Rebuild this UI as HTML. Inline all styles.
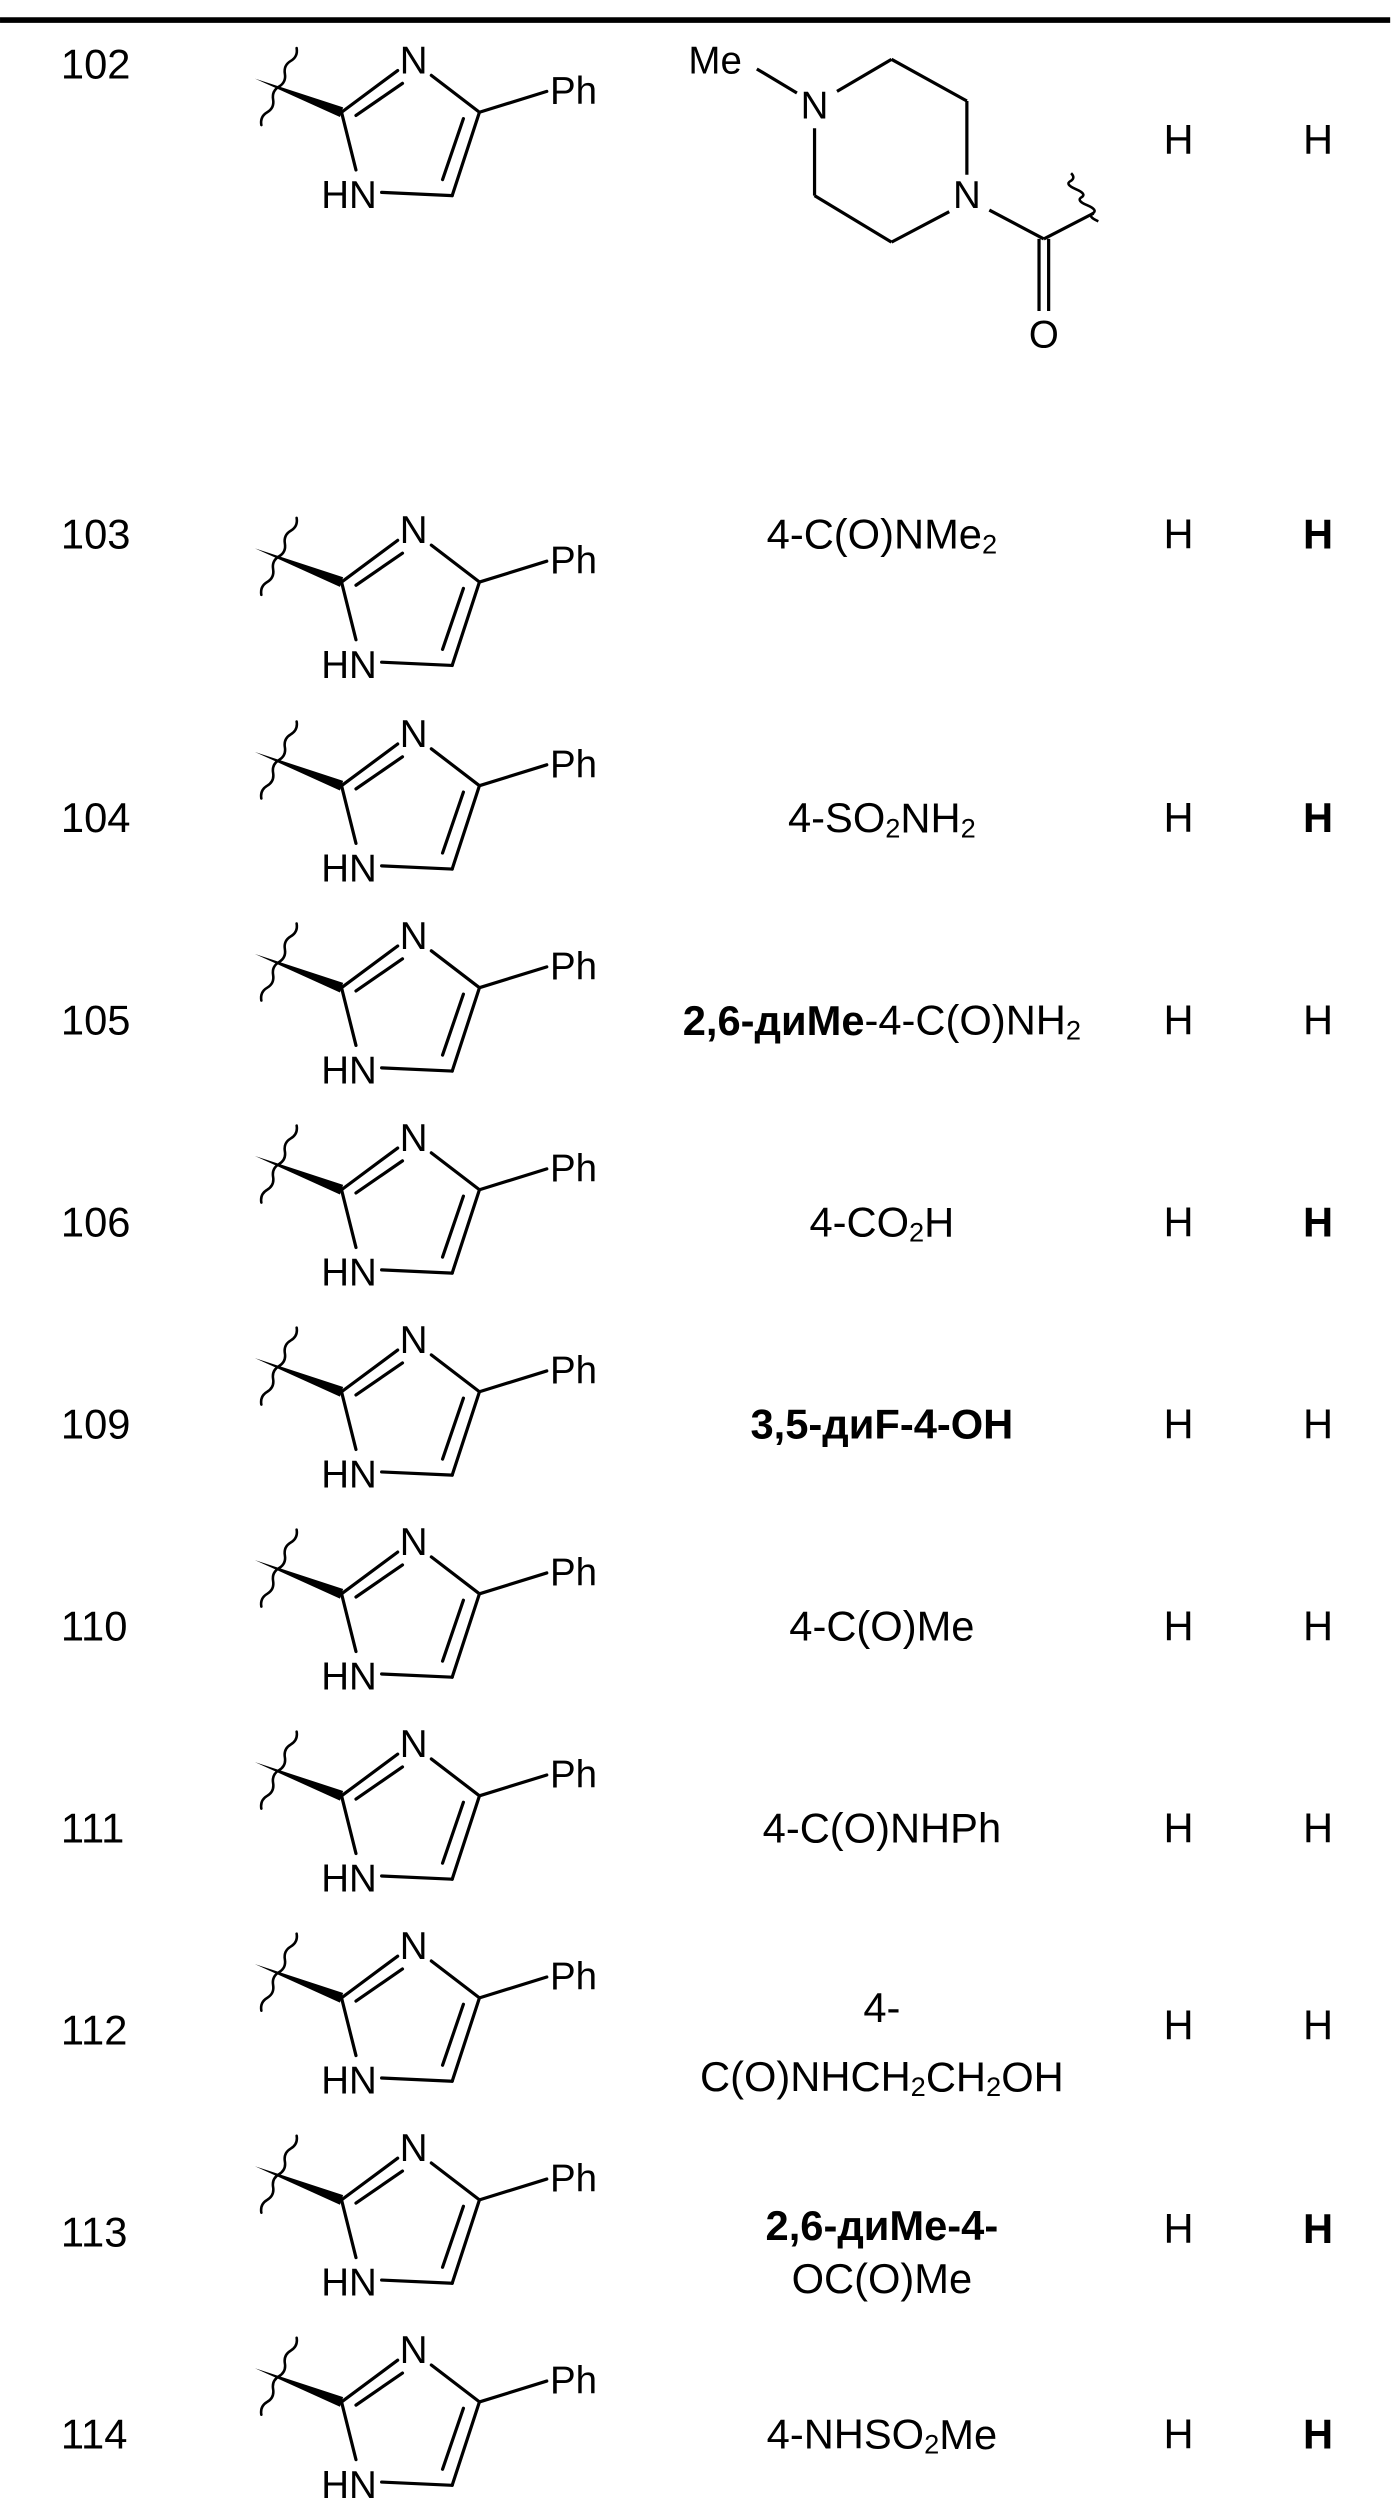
<!DOCTYPE html>
<html><head><meta charset="utf-8"><style>
html,body{margin:0;padding:0;background:#fff;}
svg{display:block;}
text{font-family:"Liberation Sans",Arial,sans-serif;fill:#000;}
</style></head><body>
<svg width="1395" height="2518" viewBox="0 0 870 1570.4" xmlns="http://www.w3.org/2000/svg">
<defs>
<g id="ring" stroke="#000" stroke-width="2" fill="none" stroke-linecap="round">
<polygon points="-54,-21 1,-3 -1,3" fill="#000" stroke="none"/>
<path d="M-28,-40 q0.9,5.3 -3.67,8 t-3.67,8 t-3.67,8 t-3.67,8 t-3.67,8 t-3.67,8" stroke-width="1.6"/>
<line x1="0" y1="0" x2="35" y2="-26"/>
<line x1="9" y1="2" x2="38" y2="-18"/>
<line x1="56" y1="-23" x2="86" y2="0"/>
<line x1="86" y1="0" x2="128" y2="-13"/>
<line x1="86" y1="0" x2="69" y2="52"/>
<line x1="76" y1="4" x2="63" y2="42"/>
<line x1="69" y1="52" x2="25" y2="50"/>
<line x1="0" y1="0" x2="9" y2="36"/>
</g>
</defs>
<line x1="0" y1="12.5" x2="867" y2="12.5" stroke="#000" stroke-width="3.5"/>

<g font-size="26" dominant-baseline="central">
<!-- 102 -->
<text x="38" y="40">102</text>
<use href="#ring" x="213" y="70"/>
<text x="258" y="38" font-size="24" text-anchor="middle">N</text>
<text x="343" y="57" font-size="24">Ph</text>
<text x="235" y="122" font-size="24" text-anchor="end">HN</text>
<g stroke="#000" stroke-width="2" fill="none">
<line x1="472" y1="43" x2="497" y2="58"/>
<line x1="522" y1="57" x2="556" y2="37"/>
<line x1="556" y1="37" x2="603" y2="63"/>
<line x1="603" y1="63" x2="603" y2="109"/>
<line x1="592" y1="132" x2="556" y2="151"/>
<line x1="556" y1="151" x2="508" y2="122"/>
<line x1="508" y1="122" x2="508" y2="80"/>
<line x1="617" y1="131" x2="651" y2="149"/>
<line x1="651" y1="149" x2="682" y2="133"/>
<line x1="648" y1="149" x2="648" y2="194"/>
<line x1="654" y1="149" x2="654" y2="194"/>
<path d="M668,108 q3,3 -0.5,5 t3.5,5 t3.5,5 t3.5,5 t3.5,5 t3.5,5" stroke-width="1.6"/>
</g>
<text x="446" y="38" font-size="24" text-anchor="middle">Me</text>
<text x="508" y="66" font-size="24" text-anchor="middle">N</text>
<text x="603" y="122" font-size="24" text-anchor="middle">N</text>
<text x="651" y="209" font-size="24" text-anchor="middle">O</text>
<text x="735" y="87" text-anchor="middle">H</text>
<text x="822" y="87" text-anchor="middle">H</text>

<!-- 103 -->
<text x="38" y="333">103</text>
<use href="#ring" x="213" y="363"/>
<text x="258" y="331" font-size="24" text-anchor="middle">N</text>
<text x="343" y="350" font-size="24">Ph</text>
<text x="235" y="415" font-size="24" text-anchor="end">HN</text>
<text x="550" y="333" text-anchor="middle">4-C(O)NMe<tspan font-size="17" dy="6">2</tspan></text>
<text x="735" y="333" text-anchor="middle">H</text>
<text x="822" y="333" text-anchor="middle" font-weight="bold">H</text>

<!-- 104 -->
<text x="38" y="510">104</text>
<use href="#ring" x="213" y="490"/>
<text x="258" y="458" font-size="24" text-anchor="middle">N</text>
<text x="343" y="477" font-size="24">Ph</text>
<text x="235" y="542" font-size="24" text-anchor="end">HN</text>
<text x="550" y="510" text-anchor="middle">4-SO<tspan font-size="17" dy="6">2</tspan><tspan dy="-6">NH</tspan><tspan font-size="17" dy="6">2</tspan></text>
<text x="735" y="510" text-anchor="middle">H</text>
<text x="822" y="510" text-anchor="middle" font-weight="bold">H</text>

<!-- 105 -->
<text x="38" y="636">105</text>
<use href="#ring" x="213" y="616"/>
<text x="258" y="584" font-size="24" text-anchor="middle">N</text>
<text x="343" y="603" font-size="24">Ph</text>
<text x="235" y="668" font-size="24" text-anchor="end">HN</text>
<text x="550" y="636" text-anchor="middle"><tspan font-weight="bold">2,6-диMe</tspan>-4-C(O)NH<tspan font-size="17" dy="6">2</tspan></text>
<text x="735" y="636" text-anchor="middle">H</text>
<text x="822" y="636" text-anchor="middle">H</text>

<!-- 106 -->
<text x="38" y="762">106</text>
<use href="#ring" x="213" y="742"/>
<text x="258" y="710" font-size="24" text-anchor="middle">N</text>
<text x="343" y="729" font-size="24">Ph</text>
<text x="235" y="794" font-size="24" text-anchor="end">HN</text>
<text x="550" y="762" text-anchor="middle">4-CO<tspan font-size="17" dy="6">2</tspan><tspan dy="-6">H</tspan></text>
<text x="735" y="762" text-anchor="middle">H</text>
<text x="822" y="762" text-anchor="middle" font-weight="bold">H</text>

<!-- 109 -->
<text x="38" y="888">109</text>
<use href="#ring" x="213" y="868"/>
<text x="258" y="836" font-size="24" text-anchor="middle">N</text>
<text x="343" y="855" font-size="24">Ph</text>
<text x="235" y="920" font-size="24" text-anchor="end">HN</text>
<text x="550" y="888" text-anchor="middle" font-weight="bold">3,5-диF-4-OH</text>
<text x="735" y="888" text-anchor="middle">H</text>
<text x="822" y="888" text-anchor="middle">H</text>

<!-- 110 -->
<text x="38" y="1014">110</text>
<use href="#ring" x="213" y="994"/>
<text x="258" y="962" font-size="24" text-anchor="middle">N</text>
<text x="343" y="981" font-size="24">Ph</text>
<text x="235" y="1046" font-size="24" text-anchor="end">HN</text>
<text x="550" y="1014" text-anchor="middle">4-C(O)Me</text>
<text x="735" y="1014" text-anchor="middle">H</text>
<text x="822" y="1014" text-anchor="middle">H</text>

<!-- 111 -->
<text x="38" y="1140">111</text>
<use href="#ring" x="213" y="1120"/>
<text x="258" y="1088" font-size="24" text-anchor="middle">N</text>
<text x="343" y="1107" font-size="24">Ph</text>
<text x="235" y="1172" font-size="24" text-anchor="end">HN</text>
<text x="550" y="1140" text-anchor="middle">4-C(O)NHPh</text>
<text x="735" y="1140" text-anchor="middle">H</text>
<text x="822" y="1140" text-anchor="middle">H</text>

<!-- 112 -->
<text x="38" y="1266">112</text>
<use href="#ring" x="213" y="1246"/>
<text x="258" y="1214" font-size="24" text-anchor="middle">N</text>
<text x="343" y="1233" font-size="24">Ph</text>
<text x="235" y="1298" font-size="24" text-anchor="end">HN</text>
<text x="550" y="1252" text-anchor="middle">4-</text>
<text x="550" y="1295" text-anchor="middle">C(O)NHCH<tspan font-size="17" dy="6">2</tspan><tspan dy="-6">CH</tspan><tspan font-size="17" dy="6">2</tspan><tspan dy="-6">OH</tspan></text>
<text x="735" y="1263" text-anchor="middle">H</text>
<text x="822" y="1263" text-anchor="middle">H</text>

<!-- 113 -->
<text x="38" y="1392">113</text>
<use href="#ring" x="213" y="1372"/>
<text x="258" y="1340" font-size="24" text-anchor="middle">N</text>
<text x="343" y="1359" font-size="24">Ph</text>
<text x="235" y="1424" font-size="24" text-anchor="end">HN</text>
<text x="550" y="1388" text-anchor="middle" font-weight="bold">2,6-диMe-4-</text>
<text x="550" y="1421" text-anchor="middle">OC(O)Me</text>
<text x="735" y="1390" text-anchor="middle">H</text>
<text x="822" y="1390" text-anchor="middle" font-weight="bold">H</text>

<!-- 114 -->
<text x="38" y="1518">114</text>
<use href="#ring" x="213" y="1498"/>
<text x="258" y="1466" font-size="24" text-anchor="middle">N</text>
<text x="343" y="1485" font-size="24">Ph</text>
<text x="235" y="1550" font-size="24" text-anchor="end">HN</text>
<text x="550" y="1518" text-anchor="middle">4-NHSO<tspan font-size="17" dy="6">2</tspan><tspan dy="-6">Me</tspan></text>
<text x="735" y="1518" text-anchor="middle">H</text>
<text x="822" y="1518" text-anchor="middle" font-weight="bold">H</text>
</g>
</svg>
</body></html>
